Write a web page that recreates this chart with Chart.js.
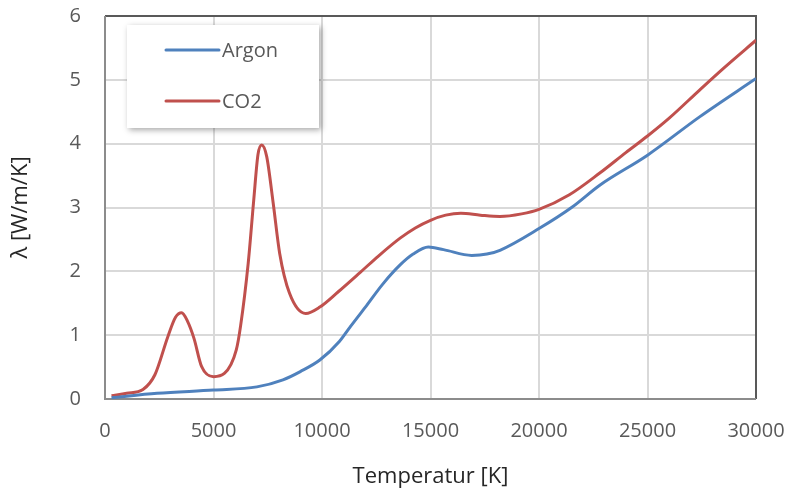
<!DOCTYPE html>
<html>
<head>
<meta charset="utf-8">
<script src="https://cdn.jsdelivr.net/npm/chart.js@4"></script>
<style>
  html, body { margin: 0; padding: 0; background: #fff; }
  #wrap { position: relative; width: 789px; height: 491px; }
</style>
</head>
<body>
<div id="wrap"><canvas id="chart"></canvas></div>
<script>
// temperature [K] and thermal conductivity [W/m/K]
const argonT = [300, 2400, 5000, 7000, 8200, 9000, 9900, 10800, 11300, 12000, 12800, 13600, 14200, 14900, 15600, 16900, 17600, 18200, 20000, 21500, 22800, 25000, 27400, 30000];
const argonL = [0.02, 0.09, 0.14, 0.19, 0.30, 0.43, 0.61, 0.90, 1.13, 1.44, 1.80, 2.10, 2.27, 2.38, 2.34, 2.25, 2.27, 2.33, 2.67, 3.00, 3.35, 3.82, 4.42, 5.02];

const co2T = [300, 1000, 1750, 2300, 2900, 3250, 3530, 3800, 4100, 4450, 5000, 5500, 6050, 6250, 6600, 6850, 7050, 7220, 7450, 7750, 8050, 8500, 9250, 9900, 10750, 11750, 12600, 13600, 14300, 15000, 15700, 16400, 17300, 18200, 19200, 20000, 21400, 22800, 24000, 25000, 26000, 27400, 28500, 30000];
const co2L = [0.05, 0.09, 0.15, 0.38, 0.98, 1.28, 1.35, 1.22, 0.95, 0.51, 0.35, 0.40, 0.77, 1.15, 2.13, 3.10, 3.83, 3.98, 3.80, 3.07, 2.28, 1.66, 1.34, 1.44, 1.68, 1.98, 2.24, 2.52, 2.68, 2.80, 2.88, 2.91, 2.88, 2.86, 2.90, 2.97, 3.20, 3.54, 3.86, 4.12, 4.40, 4.84, 5.18, 5.62];

const seriesNames = ['Argon', 'CO2'];
const seriesColors = ['#4f81bd', '#c0504d'];

const xTicks = [0, 5000, 10000, 15000, 20000, 25000, 30000];
const yTicks = [0, 1, 2, 3, 4, 5, 6];

const FONT = "'Open Sans', sans-serif";

function toPoints(xs, ys) {
    return xs.map((x, i) => ({ x: x, y: ys[i] }));
}

// frame around the plot area
const frame = {
    id: 'frame',
    beforeDatasetsDraw(chart) {
        const a = chart.chartArea;
        const ctx = chart.ctx;
        ctx.save();
        ctx.strokeStyle = '#595959';
        ctx.lineWidth = 2;
        ctx.beginPath();
        ctx.moveTo(a.left, a.top);
        ctx.lineTo(a.right, a.top);
        ctx.lineTo(a.right, a.bottom);
        ctx.stroke();
        ctx.strokeStyle = '#8c8c8c';
        ctx.beginPath();
        ctx.moveTo(a.left, a.top);
        ctx.lineTo(a.left, a.bottom);
        ctx.lineTo(a.right, a.bottom);
        ctx.stroke();
        ctx.restore();
    }
};

// legend box sitting inside the plot area, with a soft shadow
const boxLegend = {
    id: 'boxLegend',
    afterDatasetsDraw(chart) {
        const a = chart.chartArea;
        const ctx = chart.ctx;
        const x = a.left + 22, y = a.top + 9, w = 192, h = 103;
        ctx.save();
        ctx.shadowColor = 'rgba(0,0,0,0.35)';
        ctx.shadowBlur = 6;
        ctx.shadowOffsetX = 2;
        ctx.shadowOffsetY = 2;
        ctx.fillStyle = '#fff';
        ctx.fillRect(x, y, w, h);
        ctx.restore();
        ctx.save();
        chart.data.datasets.forEach((ds, i) => {
            const ly = y + 25 + i * 51;
            ctx.strokeStyle = ds.borderColor;
            ctx.lineWidth = 3;
            ctx.lineCap = 'round';
            ctx.beginPath();
            ctx.moveTo(x + 39, ly);
            ctx.lineTo(x + 92, ly);
            ctx.stroke();
            ctx.fillStyle = '#595959';
            ctx.font = '20px ' + FONT;
            ctx.textBaseline = 'middle';
            ctx.fillText(ds.label, x + 95, ly + 1);
        });
        ctx.restore();
    }
};

const ctx = document.getElementById('chart').getContext('2d');
new Chart(ctx, {
    type: 'line',
    data: {
        datasets: [
            {
                label: seriesNames[0],
                data: toPoints(argonT, argonL),
                borderColor: seriesColors[0],
                borderWidth: 3,
                pointRadius: 0,
                cubicInterpolationMode: 'monotone',
                fill: false
            },
            {
                label: seriesNames[1],
                data: toPoints(co2T, co2L),
                borderColor: seriesColors[1],
                borderWidth: 3,
                pointRadius: 0,
                cubicInterpolationMode: 'monotone',
                fill: false
            }
        ]
    },
    options: {
        responsive: true,
        maintainAspectRatio: false,
        animation: false,
        layout: { padding: 0 },
        plugins: {
            legend: { display: false },
            tooltip: { enabled: false }
        },
        scales: {
            x: {
                type: 'linear',
                min: 0,
                max: 30000,
                afterBuildTicks: (scale) => { scale.ticks = xTicks.map(v => ({ value: v })); },
                afterFit: (scale) => {
                    scale.height = 92;
                    scale.paddingLeft = 0;
                    scale.paddingRight = 33;
                },
                grid: { color: '#d9d9d9', lineWidth: 2, drawTicks: false },
                border: { display: false },
                ticks: {
                    padding: 20,
                    color: '#595959',
                    font: { family: FONT, size: 20 },
                    maxRotation: 0,
                    callback: (v) => String(v)
                },
                title: {
                    display: true,
                    text: 'Temperatur [K]',
                    color: '#262626',
                    font: { family: FONT, size: 22 },
                    padding: { top: 0, bottom: 1 }
                }
            },
            y: {
                min: 0,
                max: 6,
                afterBuildTicks: (scale) => { scale.ticks = yTicks.map(v => ({ value: v })); },
                afterFit: (scale) => {
                    scale.width = 105;
                    scale.paddingTop = 16;
                    scale.paddingBottom = 0;
                },
                grid: { color: '#d9d9d9', lineWidth: 2, drawTicks: false },
                border: { display: false },
                ticks: {
                    padding: 24,
                    color: '#595959',
                    font: { family: FONT, size: 20 }
                },
                title: {
                    display: true,
                    text: 'λ [W/m/K]',
                    color: '#262626',
                    font: { family: FONT, size: 22 },
                    padding: { top: 8, bottom: 0 }
                }
            }
        }
    },
    plugins: [frame, boxLegend]
});
</script>
</body>
</html>
